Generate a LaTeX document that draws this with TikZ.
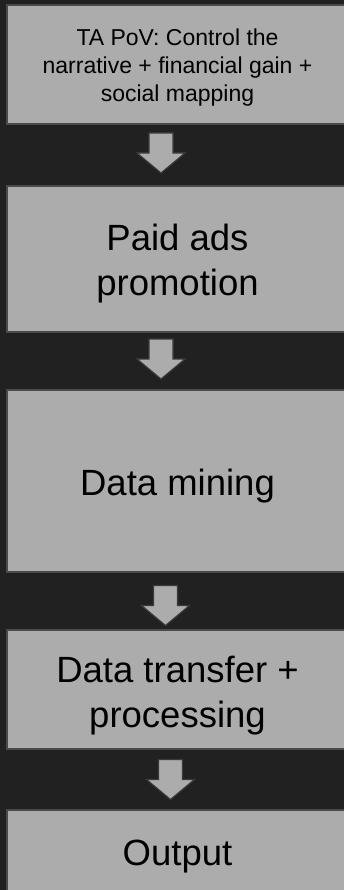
\documentclass[tikz,border=0pt]{standalone}
\usepackage{fontspec}
\setmainfont{Liberation Sans}
\definecolor{bg}{HTML}{212121}
\definecolor{boxfill}{HTML}{ACACAC}
\definecolor{boxline}{HTML}{4A4A4A}
\definecolor{arrline}{HTML}{3A3A3A}
\begin{document}
\begin{tikzpicture}[x=1pt,y=-1pt,
  stage/.style={draw=boxline, line width=1.2pt, fill=boxfill, inner sep=0pt,
    minimum width=341pt},
  stagetext/.style={text=black, align=center, inner sep=0pt, anchor=base},
  smalltext/.style={stagetext, font=\fontsize{23}{28}\selectfont},
  bigtext/.style={stagetext, font=\fontsize{36.5}{45}\selectfont},
  flowarrow/.style={draw=arrline, line width=1.2pt, fill=boxfill, line join=miter},
  downarrow/.pic={\draw[flowarrow] (-12,0) -- (12,0) -- (12,20) -- (24,20)
    -- (0,40) -- (-24,20) -- (-12,20) -- cycle;}]
\useasboundingbox (0,0) rectangle (344,890);
\fill[bg] (0,0) rectangle (344,890);
\clip (0,0) rectangle (344,890);
% boxes
\node[stage, minimum height=119pt] (b1) at (177.5,64.5) {};
\node[stage, minimum height=146pt] (b2) at (177.5,259) {};
\node[stage, minimum height=182pt] (b3) at (177.5,481) {};
\node[stage, minimum height=119pt] (b4) at (177.5,689.5) {};
\node[stage, minimum height=100pt] (b5) at (177.5,860) {};
% texts (anchored at the baseline of their last line)
\node[smalltext] (t1) at (177.5,101.7) {TA PoV: Control the\\narrative + financial gain +\\social mapping};
\node[bigtext] (t2) at (177.5,295) {Paid ads\\promotion};
\node[bigtext] (t3) at (177.5,495) {Data mining};
\node[bigtext] (t4) at (177.5,727) {Data transfer +\\processing};
\node[bigtext] (t5) at (177.5,865) {Output};
% arrows
\coordinate (a1) at (161,133);
\coordinate (a2) at (161,339);
\coordinate (a3) at (165.5,585.5);
\coordinate (a4) at (170.5,759.5);
\pic at (a1) {downarrow};
\pic at (a2) {downarrow};
\pic at (a3) {downarrow};
\pic at (a4) {downarrow};
\end{tikzpicture}
\end{document}
